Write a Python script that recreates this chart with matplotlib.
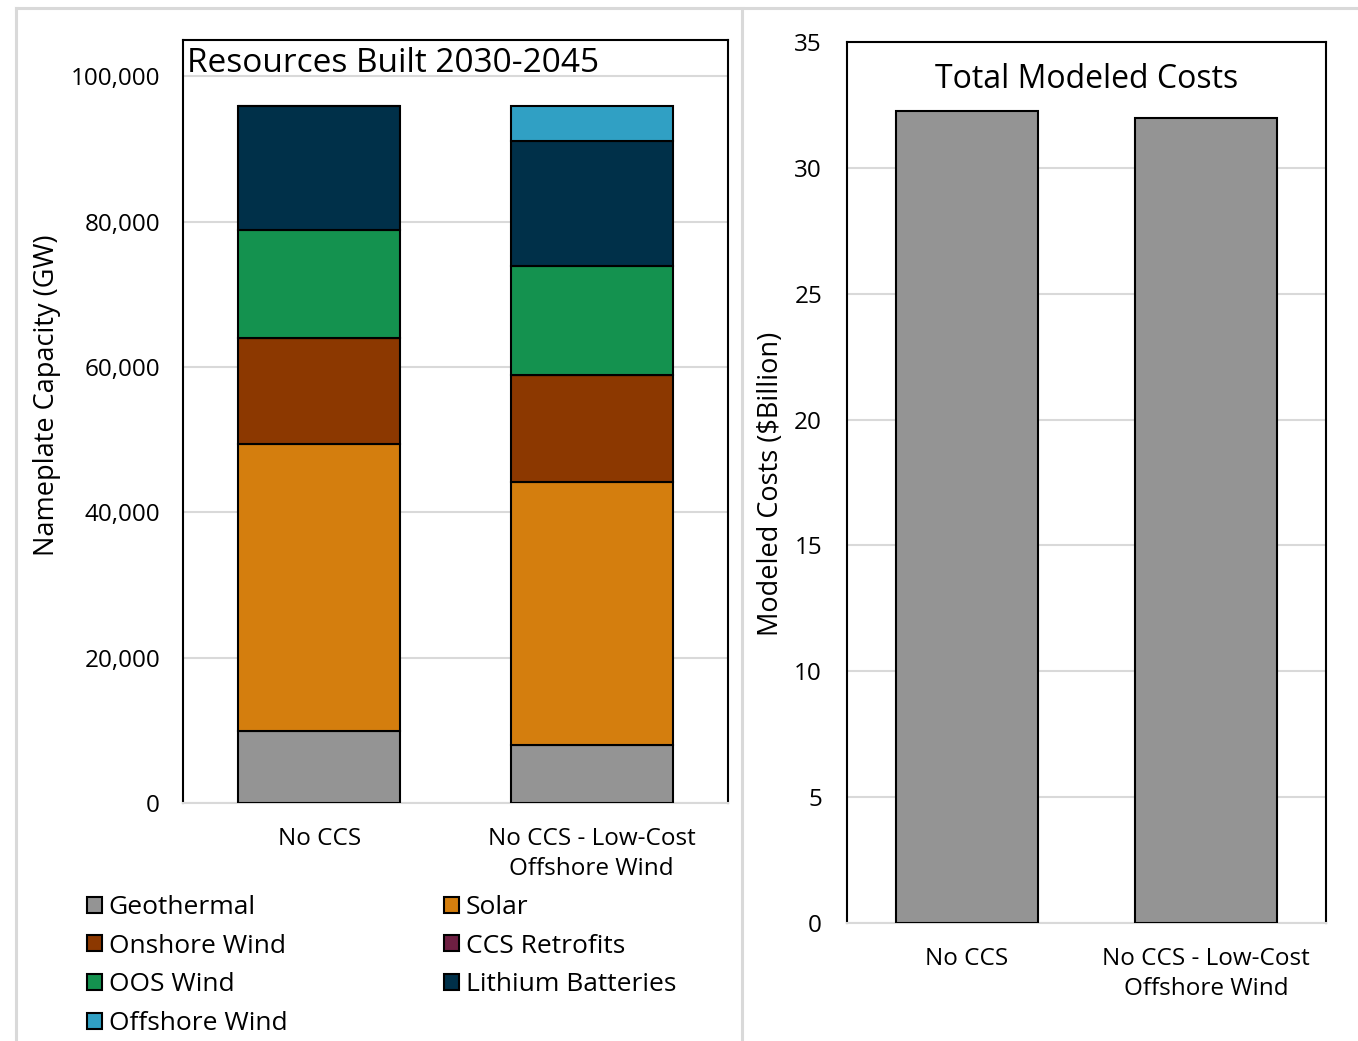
import matplotlib.pyplot as plt
from matplotlib.lines import Line2D
from matplotlib.patches import Patch

plt.rcParams['font.family'] = ['Open Sans', 'DejaVu Sans']

# data
scenarios = ['No CCS', 'No CCS - Low-Cost\nOffshore Wind']
resources = ['Geothermal', 'Solar', 'Onshore Wind', 'CCS Retrofits',
             'OOS Wind', 'Lithium Batteries', 'Offshore Wind']
geothermal = [9900, 8000]
solar = [39500, 36200]
onshore_wind = [14600, 14700]
ccs_retrofits = [0, 0]
oos_wind = [14900, 15000]
lithium_batteries = [17000, 17200]
offshore_wind = [0, 4800]
modeled_costs = [32.25, 31.97]

colors = {'Geothermal': '#949494', 'Solar': '#d47e0e', 'Onshore Wind': '#8c3800',
          'CCS Retrofits': '#6e1f42', 'OOS Wind': '#14924f',
          'Lithium Batteries': '#003049', 'Offshore Wind': '#30a0c4'}
grid_col = '#d9d9d9'

fig = plt.figure(figsize=(13.58, 10.41), dpi=100)

# ---- left: stacked capacity ----
ax1 = fig.add_axes([183/1358, 1-803/1041, 545/1358, 763/1041])
x = range(len(scenarios))
stack = [geothermal, solar, onshore_wind, ccs_retrofits, oos_wind,
         lithium_batteries, offshore_wind]
bottom = [0, 0]
for name, vals in zip(resources, stack):
    ax1.bar(x, vals, bottom=bottom, width=0.595, color=colors[name],
            edgecolor='black', linewidth=1.5, zorder=3)
    bottom = [b + v for b, v in zip(bottom, vals)]

ax1.set_xlim(-0.5, 1.5)
ax1.set_ylim(0, 105000)
ax1.set_yticks(range(0, 100001, 20000))
ax1.set_yticklabels([f'{v:,}' for v in range(0, 100001, 20000)])
ax1.yaxis.grid(True, color=grid_col, linewidth=1.5, zorder=0)
ax1.set_xticks(list(x))
ax1.set_xticklabels(scenarios, linespacing=1.38)
ax1.tick_params(axis='y', length=0, pad=16.5, labelsize=17.5)
ax1.tick_params(axis='x', length=0, pad=17, labelsize=17.5)
ax1.set_ylabel('Nameplate Capacity (GW)', fontsize=19.5, va='center')
ax1.yaxis.set_label_coords(-0.249, 0.535)
ax1.text(0.007, 0.991, 'Resources Built 2030-2045', transform=ax1.transAxes,
         ha='left', va='top', fontsize=24)

# ---- right: total cost ----
ax2 = fig.add_axes([847/1358, 1-923/1041, 479/1358, 881/1041])
ax2.bar(x, modeled_costs, width=0.594, color='#949494', edgecolor='black',
        linewidth=1.5, zorder=3)
ax2.set_xlim(-0.5, 1.5)
ax2.set_ylim(0, 35)
ax2.set_yticks(range(0, 36, 5))
ax2.yaxis.grid(True, color=grid_col, linewidth=1.5, zorder=0)
ax2.set_xticks(list(x))
ax2.set_xticklabels(scenarios, linespacing=1.38)
ax2.tick_params(axis='y', length=0, pad=18, labelsize=17.5)
ax2.tick_params(axis='x', length=0, pad=17, labelsize=17.5)
ax2.set_ylabel('Modeled Costs ($Billion)', fontsize=19.5, va='center')
ax2.yaxis.set_label_coords(-0.159, 0.498)
ax2.text(0.5, 0.9575, 'Total Modeled Costs', transform=ax2.transAxes,
         ha='center', va='center', fontsize=23)

for ax in (ax1, ax2):
    for side in ('left', 'top', 'right'):
        ax.spines[side].set_color('black')
        ax.spines[side].set_linewidth(1.5)
    ax.spines['bottom'].set_color(grid_col)
    ax.spines['bottom'].set_linewidth(1.5)

# legend, filled column by column like the reference
leg_order = ['Geothermal', 'Onshore Wind', 'OOS Wind', 'Offshore Wind',
             'Solar', 'CCS Retrofits', 'Lithium Batteries']
handles = [Patch(facecolor=colors[n], edgecolor='black', linewidth=1.5) for n in leg_order]
fig.legend(handles, leg_order, loc='upper left', bbox_to_anchor=(87/1358, 1-895/1041),
           ncol=2, frameon=False, fontsize=19, borderpad=0, borderaxespad=0,
           handlelength=0.55, handleheight=0.55, handletextpad=0.27,
           labelspacing=0.52, columnspacing=5.95)

# light gray panel frame
fig.add_artist(Line2D([16/1358, 1], [1-8/1041, 1-8/1041], color=grid_col, lw=2.2))
fig.add_artist(Line2D([16/1358, 16/1358], [0, 1-8/1041], color=grid_col, lw=2.2))
fig.add_artist(Line2D([742/1358, 742/1358], [0, 1-8/1041], color=grid_col, lw=2.2))

fig.savefig('out.png', dpi=100)
